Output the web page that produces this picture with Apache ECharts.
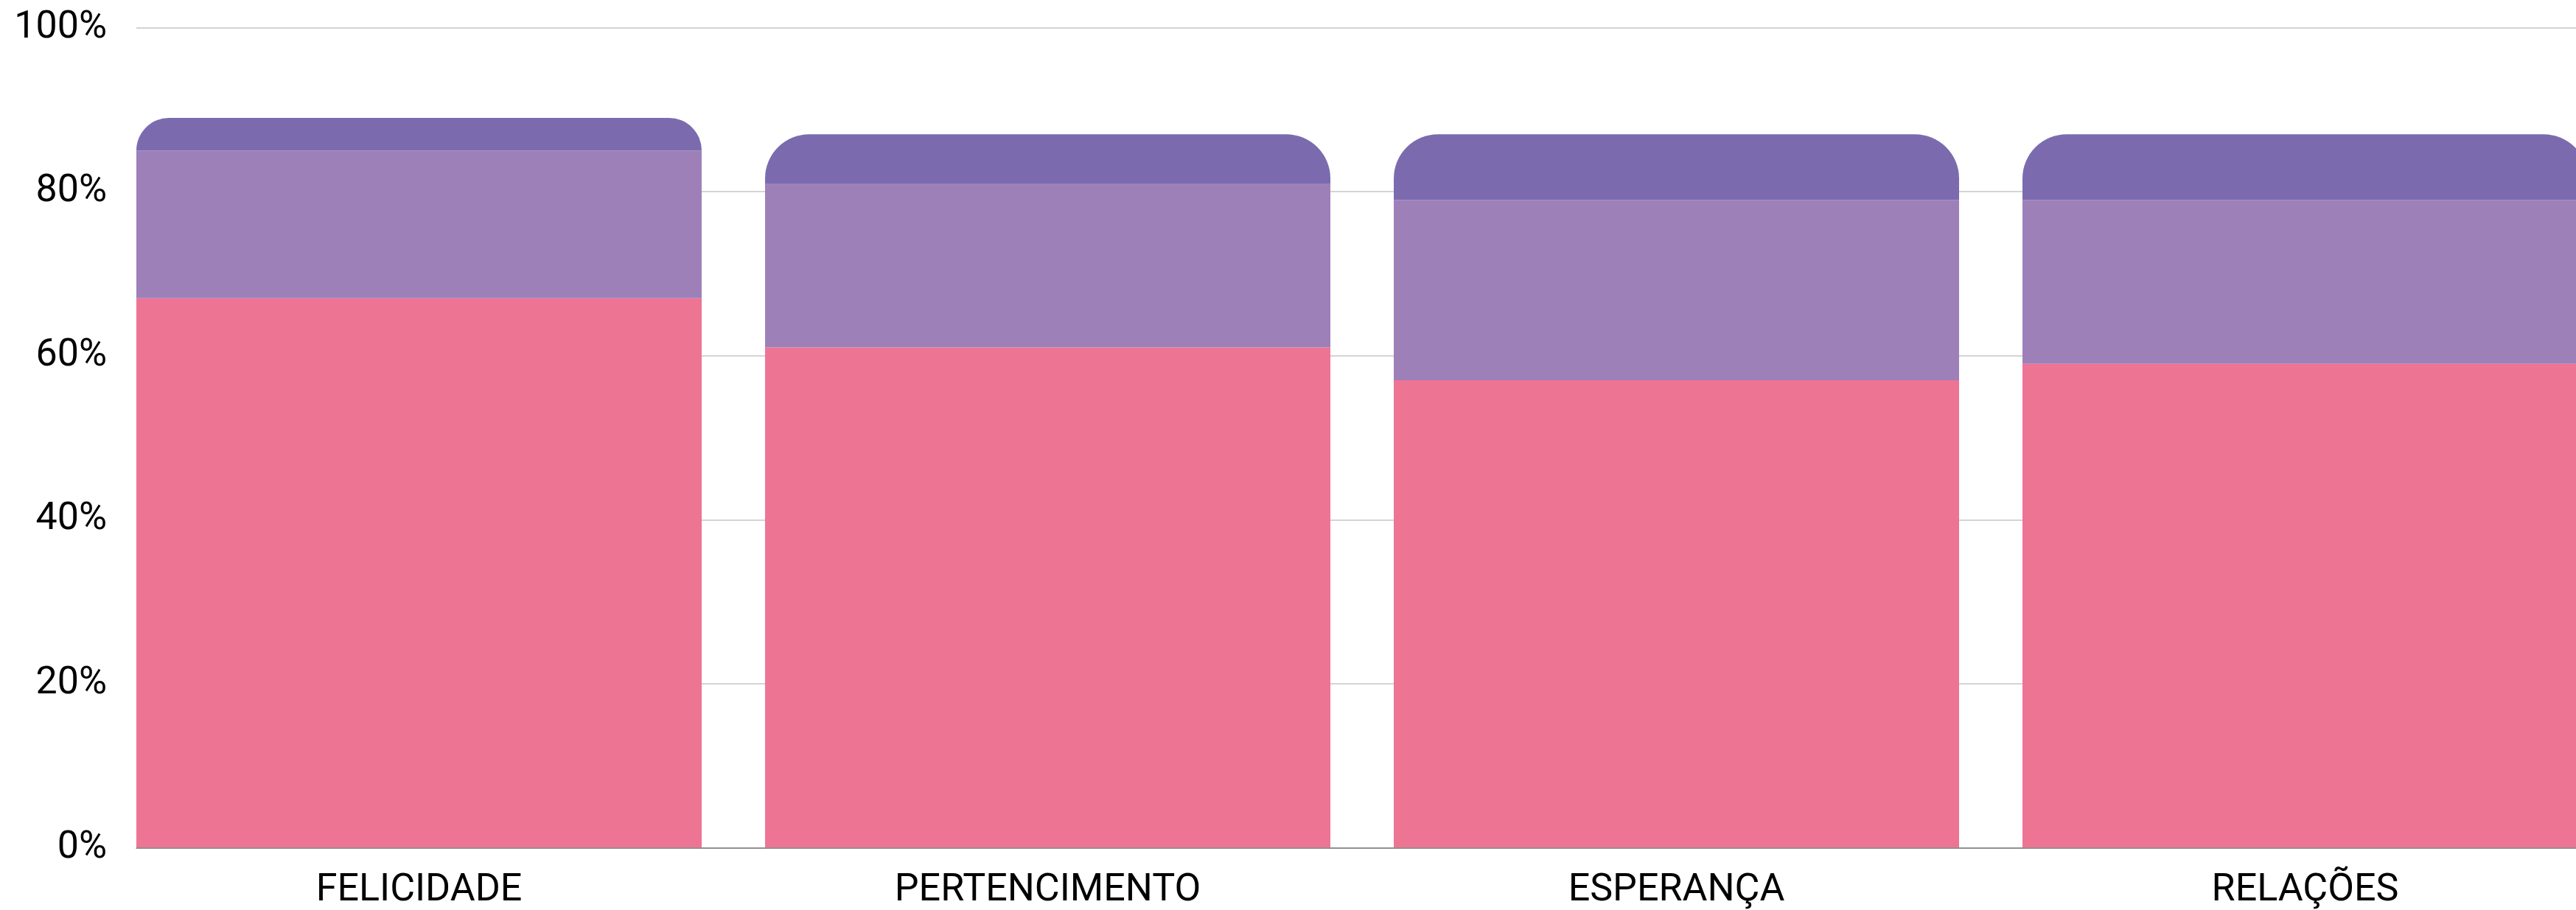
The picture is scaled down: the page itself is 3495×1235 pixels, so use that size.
<!DOCTYPE html>
<html>
<head>
<meta charset="utf-8">
<script src="https://cdn.jsdelivr.net/npm/echarts@6/dist/echarts.min.js"></script>
<style>
  html, body { margin:0; padding:0; background:#fff; }
  #chart { width:3495px; height:1235px; }
</style>
</head>
<body>
<div id="chart"></div>
<script type="text/javascript">
// categorias e valores (%)
var categorias = ['FELICIDADE', 'PERTENCIMENTO', 'ESPERANÇA', 'RELAÇÕES'];
var rosa    = [67, 61, 57, 59];
var lilas   = [18, 20, 22, 20];
var roxo    = [4, 6, 8, 8];
var yTicks  = [0, 20, 40, 60, 80, 100];

var fonte = 'Roboto';
var dom = document.getElementById('chart');
var myChart = echarts.init(dom);

var option = {
  animation: false,
  grid: [
    // grade das barras: centros das categorias nas bordas (boundaryGap false)
    { left: 568.5, right: 367.5, top: 37.5, bottom: 84.3 },
    // grade das linhas e rotulos do eixo y
    { left: 185, right: 0, top: 37.5, bottom: 84.3 }
  ],
  xAxis: [
    {
      type: 'category',
      gridIndex: 0,
      boundaryGap: false,
      data: categorias,
      axisLine: { show: false },
      axisTick: { show: false },
      splitLine: { show: false },
      axisLabel: {
        interval: 0,
        margin: 33,
        color: '#000',
        fontFamily: fonte,
        fontSize: 52
      }
    },
    {
      type: 'value',
      gridIndex: 1,
      min: 0, max: 1,
      axisLine: { show: true, lineStyle: { color: '#7a7a7a', width: 1.5 } },
      axisTick: { show: false },
      axisLabel: { show: false },
      splitLine: { show: false }
    }
  ],
  yAxis: [
    {
      type: 'value',
      gridIndex: 0,
      min: yTicks[0], max: yTicks[yTicks.length - 1], interval: 20,
      show: false
    },
    {
      type: 'value',
      gridIndex: 1,
      min: yTicks[0], max: yTicks[yTicks.length - 1], interval: 20,
      axisLine: { show: false },
      axisTick: { show: false },
      axisLabel: {
        margin: 40,
        color: '#000',
        fontFamily: fonte,
        fontSize: 52,
        formatter: '{value}%'
      },
      splitLine: { show: true, lineStyle: { color: '#d4d4d4', width: 2 } }
    }
  ],
  series: [
    {
      name: 'rosa', type: 'bar', stack: 'total',
      xAxisIndex: 0, yAxisIndex: 0,
      barWidth: 767, clip: false,
      itemStyle: { color: '#ee7494' },
      data: rosa
    },
    {
      name: 'lilas', type: 'bar', stack: 'total',
      xAxisIndex: 0, yAxisIndex: 0,
      barWidth: 767, clip: false,
      itemStyle: { color: '#9e80b9' },
      data: lilas
    },
    {
      name: 'roxo', type: 'bar', stack: 'total',
      xAxisIndex: 0, yAxisIndex: 0,
      barWidth: 767, clip: false,
      itemStyle: { color: '#7b6bae', borderRadius: [60, 60, 0, 0] },
      data: roxo
    }
  ]
};

myChart.setOption(option);
</script>
</body>
</html>
